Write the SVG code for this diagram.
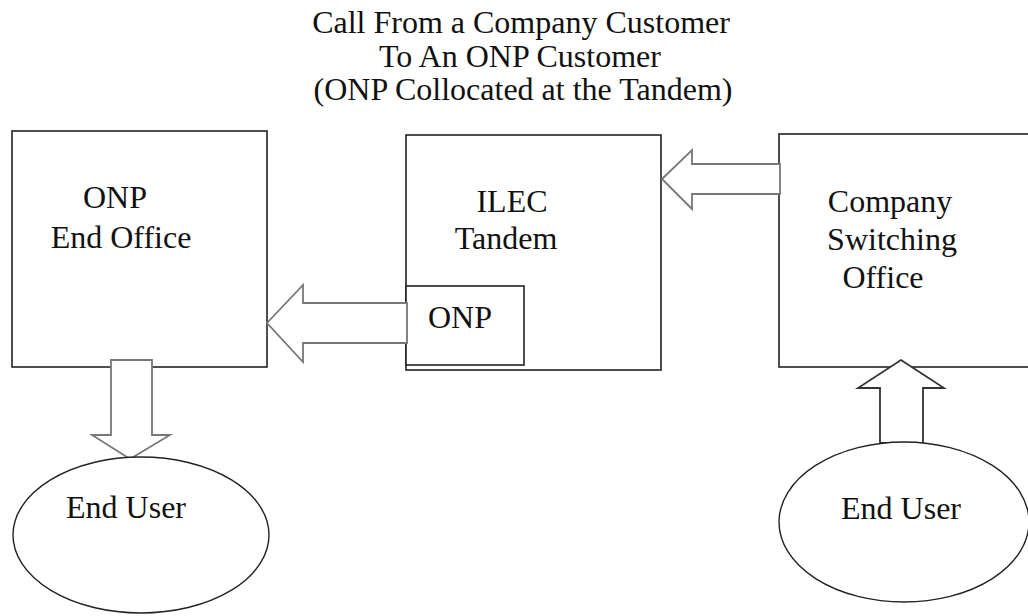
<svg xmlns="http://www.w3.org/2000/svg" width="1028" height="616" viewBox="0 0 1028 616">
<style>
text{font-family:"Liberation Serif","Times New Roman",serif;font-size:32px;fill:#111}
.box{fill:#fff;stroke:#222;stroke-width:1.6}
.arr{fill:#fff;stroke:#777;stroke-width:1.8;stroke-linejoin:miter}
.ell{fill:#fff;stroke:#222;stroke-width:1.4}
</style>
<rect width="1028" height="616" fill="#fff"/>
<g id="title">
<text x="521" y="33" text-anchor="middle">Call From a Company Customer</text>
<text x="520" y="67" text-anchor="middle">To An ONP Customer</text>
<text x="523" y="100" text-anchor="middle">(ONP Collocated at the Tandem)</text>
</g>
<g id="onp-end-office">
<rect class="box" x="12" y="131" width="255" height="236"/>
<text x="115" y="208" text-anchor="middle">ONP</text>
<text x="121" y="248" text-anchor="middle">End Office</text>
</g>
<g id="ilec-tandem">
<rect class="box" x="406" y="135" width="255" height="235"/>
<text x="512" y="212" text-anchor="middle">ILEC</text>
<text x="506" y="249" text-anchor="middle">Tandem</text>
</g>
<g id="onp-collocated">
<rect class="box" x="406" y="286" width="118" height="79"/>
<text x="460" y="328" text-anchor="middle">ONP</text>
</g>
<g id="company-switching-office">
<rect class="box" x="779" y="134" width="260" height="233"/>
<text x="890" y="212" text-anchor="middle">Company</text>
<text x="892" y="250" text-anchor="middle">Switching</text>
<text x="883" y="288" text-anchor="middle">Office</text>
</g>
<g id="connectors">
<polygon class="arr" points="662,179 692,150 692,164 780,164 780,194 692,194 692,209"/>
<polygon class="arr" points="267,323 303,285 303,303 407,303 407,343 303,343 303,362"/>
<polygon class="arr" points="111,360 152,360 152,435 170,435 130,459 92,435 111,435"/>
<polygon class="arr" style="stroke:#333" points="901,360 944,388 923,388 923,443 880,443 880,388 858,388"/>
</g>
<g id="end-user-left">
<ellipse class="ell" cx="141" cy="535" rx="128" ry="78"/>
<text x="126" y="518" text-anchor="middle">End User</text>
</g>
<g id="end-user-right">
<ellipse class="ell" cx="904" cy="522" rx="125" ry="80"/>
<text x="901" y="519" text-anchor="middle">End User</text>
</g>
</svg>
